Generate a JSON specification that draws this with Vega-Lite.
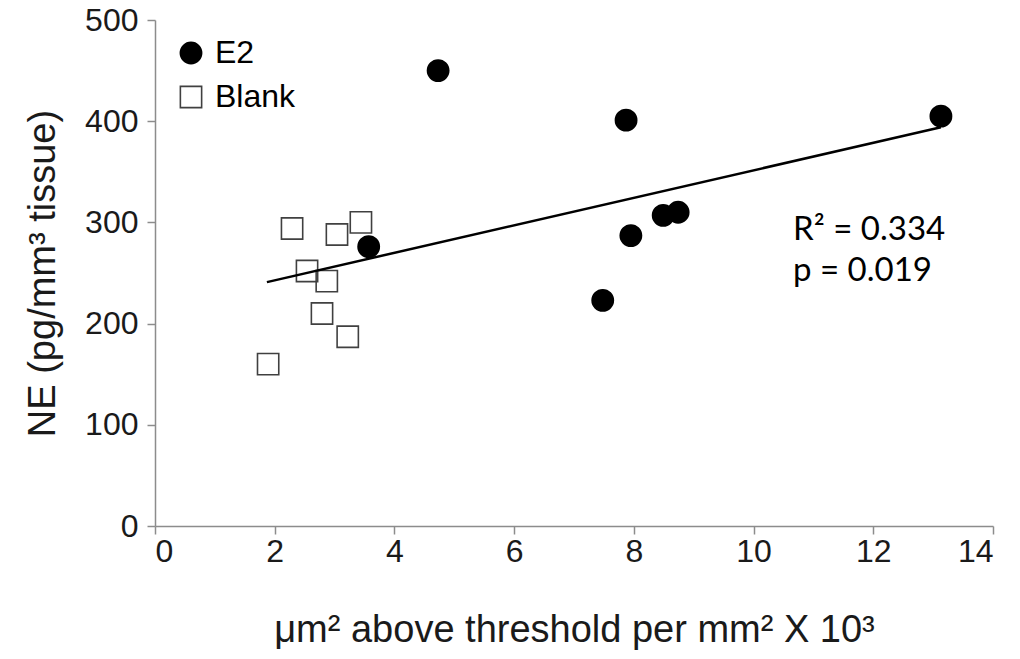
{
  "$schema": "https://vega.github.io/schema/vega-lite/v6.json",
  "width": 838,
  "height": 506,
  "autosize": "none",
  "padding": {"left": 155, "top": 20, "right": 27, "bottom": 133},
  "background": "white",
  "config": {
    "view": {"stroke": null},
    "font": "Liberation Sans",
    "axis": {
      "grid": false,
      "domainColor": "#8c8c8c",
      "domainWidth": 1.5,
      "tickColor": "#8c8c8c",
      "tickWidth": 1.5,
      "tickSize": 8
    }
  },
  "datasets": {
    "pts": [
      {"x": 4.73, "y": 450, "group": "E2"},
      {"x": 7.87, "y": 401, "group": "E2"},
      {"x": 13.13, "y": 405, "group": "E2"},
      {"x": 3.57, "y": 276, "group": "E2"},
      {"x": 7.95, "y": 287, "group": "E2"},
      {"x": 8.49, "y": 307, "group": "E2"},
      {"x": 8.74, "y": 310, "group": "E2"},
      {"x": 7.48, "y": 223, "group": "E2"},
      {"x": 1.89, "y": 160, "group": "Blank"},
      {"x": 2.29, "y": 294, "group": "Blank"},
      {"x": 2.54, "y": 252, "group": "Blank"},
      {"x": 3.04, "y": 288, "group": "Blank"},
      {"x": 2.87, "y": 242, "group": "Blank"},
      {"x": 3.44, "y": 300, "group": "Blank"},
      {"x": 2.79, "y": 210, "group": "Blank"},
      {"x": 3.22, "y": 187, "group": "Blank"}
    ],
    "fit": [
      {"x": 1.87, "y": 241},
      {"x": 13.13, "y": 394}
    ],
    "notes": [
      {"x": 10.66, "y": 292, "label": "R² = 0.334"},
      {"x": 10.66, "y": 252, "label": "p = 0.019"}
    ]
  },
  "layer": [
    {
      "data": {"name": "pts"},
      "mark": {"type": "point", "opacity": 1, "strokeWidth": 1.6, "size": 452},
      "encoding": {
        "x": {
          "field": "x", "type": "quantitative",
          "scale": {"domain": [0, 14], "nice": false},
          "axis": {"values": [0, 2, 4, 6, 8, 10, 12, 14], "format": "d",
                   "labelFont": "Liberation Sans", "labelFontSize": 32, "labelColor": "#1a1a1a", "labelPadding": 2,
                   "titleFont": "Liberation Sans", "titleFontSize": 38, "titleFontWeight": "normal", "titleColor": "#1a1a1a",
                   "titlePadding": 44,
                   "title": "μm² above threshold per mm² X 10³"}
        },
        "y": {
          "field": "y", "type": "quantitative",
          "scale": {"domain": [0, 500], "nice": false},
          "axis": {"values": [0, 100, 200, 300, 400, 500],
                   "labelFont": "Liberation Sans", "labelFontSize": 32, "labelColor": "#1a1a1a", "labelPadding": 9,
                   "titleFont": "Liberation Sans", "titleFontSize": 38, "titleFontWeight": "normal", "titleColor": "#1a1a1a",
                   "titlePadding": 22,
                   "title": "NE (pg/mm³ tissue)"}
        },
        "shape": {
          "field": "group", "type": "nominal",
          "scale": {"domain": ["E2", "Blank"], "range": ["circle", "square"]},
          "legend": {
            "title": null, "orient": "none", "legendX": 20, "legendY": 17,
            "labelFontSize": 32, "labelFont": "Liberation Sans", "labelColor": "#000",
            "symbolSize": 452, "symbolStrokeWidth": 1.6, "rowPadding": 12, "padding": 0,
            "labelOffset": 8
          }
        },
        "fill": {
          "field": "group", "type": "nominal",
          "scale": {"domain": ["E2", "Blank"], "range": ["#000000", "transparent"]},
          "legend": null
        },
        "stroke": {
          "field": "group", "type": "nominal",
          "scale": {"domain": ["E2", "Blank"], "range": ["#000000", "#404040"]},
          "legend": null
        }
      }
    },
    {
      "data": {"name": "fit"},
      "mark": {"type": "line", "color": "#000000", "strokeWidth": 2.5},
      "encoding": {
        "x": {"field": "x", "type": "quantitative"},
        "y": {"field": "y", "type": "quantitative"}
      }
    },
    {
      "data": {"name": "notes"},
      "mark": {"type": "text", "align": "left", "baseline": "middle", "font": "Lato", "fontSize": 33, "color": "#000"},
      "encoding": {
        "x": {"field": "x", "type": "quantitative"},
        "y": {"field": "y", "type": "quantitative"},
        "text": {"field": "label"}
      }
    }
  ]
}
